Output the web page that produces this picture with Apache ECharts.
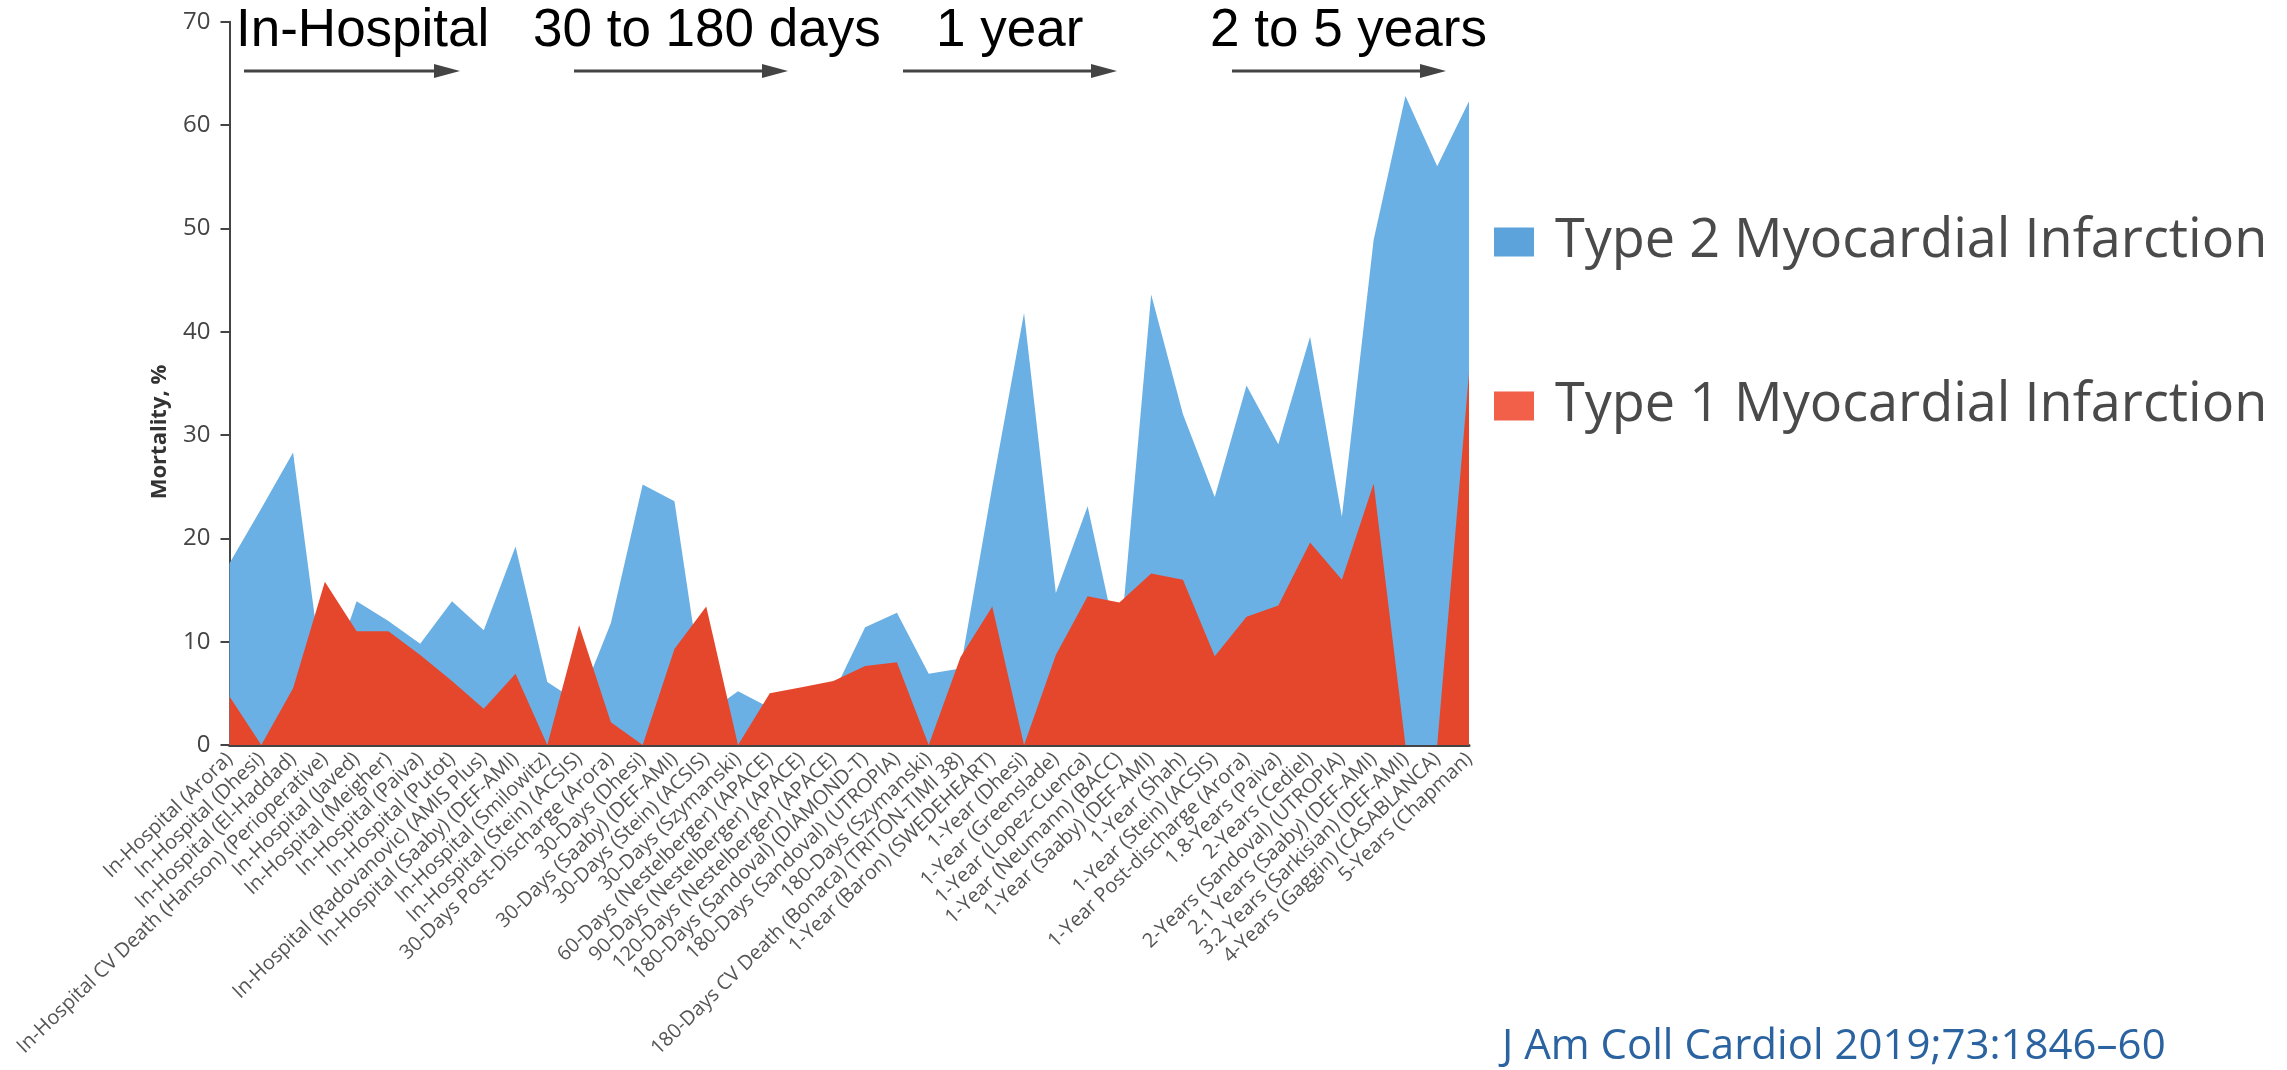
<!DOCTYPE html>
<html>
<head>
<meta charset="utf-8">
<title>Mortality after Type 1 and Type 2 Myocardial Infarction</title>
<script src="https://cdn.jsdelivr.net/npm/echarts/dist/echarts.min.js"></script>
<style>
  html, body { margin: 0; padding: 0; background: #ffffff; }
  #chart { width: 2287px; height: 1070px; }
</style>
</head>
<body>
<div id="chart"></div>
<script>
// Study cohorts, ordered by follow-up period
const categories = [
  'In-Hospital (Arora)',
  'In-Hospital (Dhesi)',
  'In-Hospital (El-Haddad)',
  'In-Hospital CV Death (Hanson) (Perioperative)',
  'In-Hospital (Javed)',
  'In-Hospital (Meigher)',
  'In-Hospital (Paiva)',
  'In-Hospital (Putot)',
  'In-Hospital (Radovanovic) (AMIS Plus)',
  'In-Hospital (Saaby) (DEF-AMI)',
  'In-Hospital (Smilowitz)',
  'In-Hospital (Stein) (ACSIS)',
  '30-Days Post-Discharge (Arora)',
  '30-Days (Dhesi)',
  '30-Days (Saaby) (DEF-AMI)',
  '30-Days (Stein) (ACSIS)',
  '30-Days (Szymanski)',
  '60-Days (Nestelberger) (APACE)',
  '90-Days (Nestelberger) (APACE)',
  '120-Days (Nestelberger) (APACE)',
  '180-Days (Sandoval) (DIAMOND-T)',
  '180-Days (Sandoval) (UTROPIA)',
  '180-Days (Szymanski)',
  '180-Days CV Death (Bonaca) (TRITON-TIMI 38)',
  '1-Year (Baron) (SWEDEHEART)',
  '1-Year (Dhesi)',
  '1-Year (Greenslade)',
  '1-Year (Lopez-Cuenca)',
  '1-Year (Neumann) (BACC)',
  '1-Year (Saaby) (DEF-AMI)',
  '1-Year (Shah)',
  '1-Year (Stein) (ACSIS)',
  '1-Year Post-discharge (Arora)',
  '1.8-Years (Paiva)',
  '2-Years (Cediel)',
  '2-Years (Sandoval) (UTROPIA)',
  '2.1 Years (Saaby) (DEF-AMI)',
  '3.2 Years (Sarkisian) (DEF-AMI)',
  '4-Years (Gaggin) (CASABLANCA)',
  '5-Years (Chapman)'
];

// Mortality, % — type 2 myocardial infarction
const type2Mortality = [
  17.6, 22.9, 28.3, 5.0, 13.9, 12.0, 9.8, 13.9, 11.1, 19.2,
  6.1, 4.1, 11.8, 25.2, 23.6, 3.0, 5.2, 3.6, 4.3, 5.0,
  11.4, 12.8, 6.9, 7.4, 25.0, 41.8, 14.7, 23.1, 8.9, 43.6,
  32.0, 24.0, 34.8, 29.1, 39.5, 22.1, 48.9, 62.8, 56.0, 62.3
];

// Mortality, % — type 1 myocardial infarction
const type1Mortality = [
  4.7, 0, 5.5, 15.8, 11.0, 11.0, 8.7, 6.2, 3.5, 6.9,
  0, 11.6, 2.2, 0, 9.3, 13.4, 0, 5.0, 5.6, 6.2,
  7.65, 8.0, 0, 8.5, 13.4, 0, 8.7, 14.4, 13.8, 16.6,
  16.0, 8.6, 12.4, 13.5, 19.6, 16.0, 25.3, 0, 0, 36.0
];

const yTicks = { min: 0, max: 70, interval: 10 };

// Follow-up period headings across the top
const periods = ['In-Hospital', '30 to 180 days', '1 year', '2 to 5 years'];
const periodTextX = [236, 533, 936, 1210];
const periodArrowX = [[244, 460], [574, 788], [903, 1117], [1232, 1446]];

const blue = '#6ab0e4';
const red = '#e5472d';
const axisGrey = '#444444';

const chart = echarts.init(document.getElementById('chart'), null, { renderer: 'canvas' });

const graphics = [];
periods.forEach(function (label, i) {
  graphics.push({
    type: 'text',
    left: periodTextX[i],
    top: 5,
    style: {
      text: label,
      font: '53px "Liberation Sans", Arial, sans-serif',
      fill: '#000000'
    }
  });
  const x0 = periodArrowX[i][0], x1 = periodArrowX[i][1], y = 71;
  graphics.push({
    type: 'line',
    shape: { x1: x0, y1: y, x2: x1 - 20, y2: y },
    style: { stroke: axisGrey, lineWidth: 3 }
  });
  graphics.push({
    type: 'polygon',
    shape: { points: [[x1 - 26, y - 7], [x1, y], [x1 - 26, y + 7]] },
    style: { fill: axisGrey }
  });
});

// Y axis title
graphics.push({
  type: 'text',
  x: 160,
  y: 432,
  rotation: Math.PI / 2,
  style: {
    text: 'Mortality, %',
    font: 'bold 22px "Open Sans", sans-serif',
    fill: '#333333',
    align: 'center',
    verticalAlign: 'middle'
  }
});

// Journal reference
graphics.push({
  type: 'text',
  left: 1502,
  top: 1026,
  style: {
    text: 'J Am Coll Cardiol 2019;73:1846\u201360',
    font: '42px "Open Sans", sans-serif',
    fill: '#2b63a1'
  }
});

chart.setOption({
  animation: false,
  backgroundColor: '#ffffff',
  grid: { left: 229.5, right: 818, top: 21.7, bottom: 325 },
  legend: {
    orient: 'vertical',
    left: 1489,
    top: 206,
    icon: 'rect',
    itemWidth: 40,
    itemHeight: 29,
    itemGap: 102,
    textStyle: {
      fontFamily: '"Open Sans", sans-serif',
      fontSize: 54,
      lineHeight: 62,
      color: '#4a4a4a',
      padding: [0, 0, 0, 16]
    },
    data: [
      { name: 'Type 2 Myocardial Infarction', itemStyle: { color: '#5ba3da' } },
      { name: 'Type 1 Myocardial Infarction', itemStyle: { color: '#f26049' } }
    ]
  },
  xAxis: {
    type: 'category',
    data: categories,
    boundaryGap: false,
    axisLine: { show: true, lineStyle: { color: axisGrey, width: 3 } },
    axisTick: { show: false },
    axisLabel: {
      interval: 0,
      rotate: 44,
      margin: 11,
      fontFamily: '"Open Sans", sans-serif',
      fontSize: 20,
      color: '#555555'
    },
    splitLine: { show: false }
  },
  yAxis: {
    type: 'value',
    min: yTicks.min,
    max: yTicks.max,
    interval: yTicks.interval,
    axisLine: { show: true, lineStyle: { color: axisGrey, width: 2 } },
    axisTick: { show: true, length: 9, lineStyle: { color: axisGrey, width: 2 } },
    axisLabel: {
      margin: 19,
      fontFamily: '"Open Sans", sans-serif',
      fontSize: 24,
      color: '#444444'
    },
    splitLine: { show: false }
  },
  series: [
    {
      name: 'Type 2 Myocardial Infarction',
      type: 'line',
      data: type2Mortality,
      showSymbol: false,
      symbol: 'none',
      lineStyle: { width: 0 },
      itemStyle: { color: blue },
      areaStyle: { color: blue, opacity: 1 },
      z: 2
    },
    {
      name: 'Type 1 Myocardial Infarction',
      type: 'line',
      data: type1Mortality,
      showSymbol: false,
      symbol: 'none',
      lineStyle: { width: 0 },
      itemStyle: { color: red },
      areaStyle: { color: red, opacity: 1 },
      z: 3
    }
  ],
  graphic: graphics
});
</script>
</body>
</html>
